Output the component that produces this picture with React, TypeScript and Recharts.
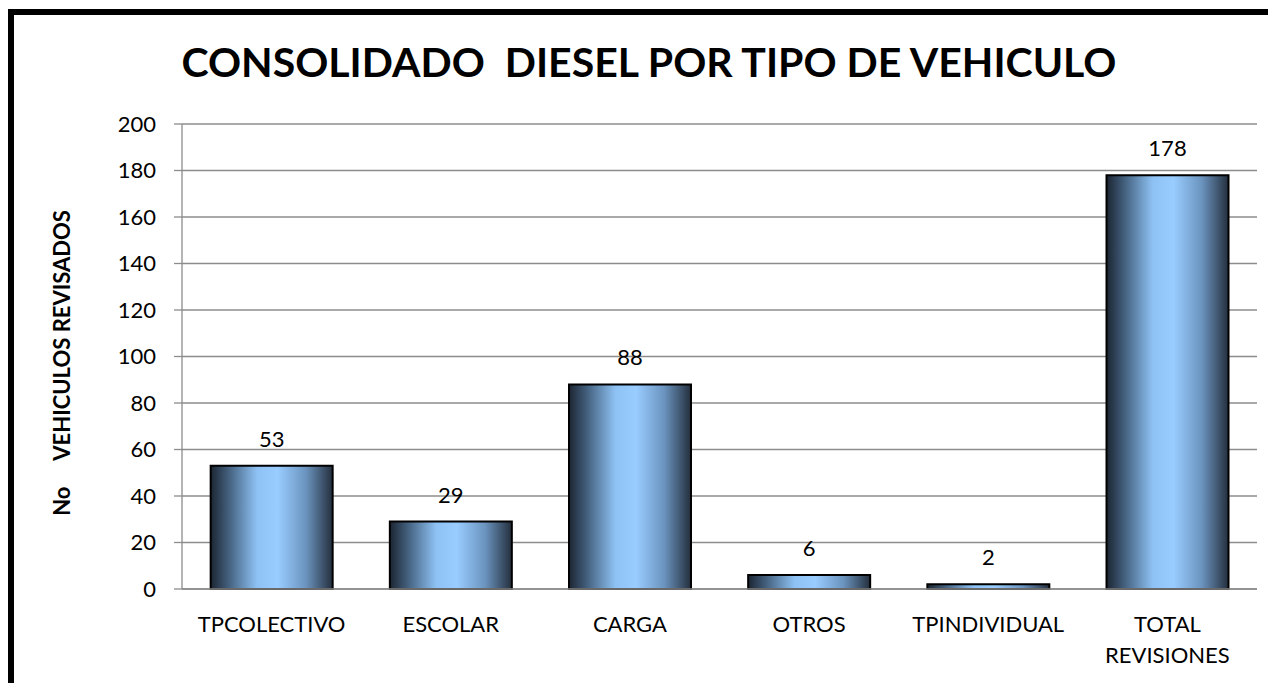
import { Bar, BarChart, CartesianGrid, LabelList, XAxis, YAxis } from "recharts";

const categories = ["TPCOLECTIVO", "ESCOLAR", "CARGA", "OTROS", "TPINDIVIDUAL", "TOTAL REVISIONES"];
const vehiculos = [53, 29, 88, 6, 2, 178];
const yTicks = [0, 20, 40, 60, 80, 100, 120, 140, 160, 180, 200];

const data = categories.map((name, i) => ({ name, value: vehiculos[i] }));

const FONT = "Lato, 'Open Sans', sans-serif";

// two-line labels where the category name has a space (TOTAL / REVISIONES)
function CategoryTick(props: { x?: number; y?: number; payload?: { value: string } }) {
  const { x = 0, y = 0, payload } = props;
  const lines = (payload?.value ?? "").split(" ");
  return (
    <text x={x} y={y} textAnchor="middle" fill="#000" fontSize={22} fontFamily={FONT}>
      {lines.map((l, i) => (
        <tspan key={i} x={x} dy={i === 0 ? 35 : 31}>
          {l}
        </tspan>
      ))}
    </text>
  );
}

export default function App() {
  return (
    <div style={{ position: "fixed", left: 0, top: 0, width: 1268, height: 683, overflow: "hidden", background: "#fff" }}>
      {/* frame: only the top and left edges show in the picture */}
      <div style={{ position: "absolute", left: 8, top: 9, width: 1260, height: 6, background: "#000" }} />
      <div style={{ position: "absolute", left: 8, top: 9, width: 6, height: 674, background: "#000" }} />
      <div
        style={{
          position: "absolute",
          left: 0,
          width: 1298,
          top: 37,
          textAlign: "center",
          fontFamily: FONT,
          fontWeight: 700,
          fontSize: 41,
          color: "#000",
        }}
      >
        CONSOLIDADO&nbsp; DIESEL POR TIPO DE VEHICULO
      </div>
      <div
        style={{
          position: "absolute",
          left: 61,
          top: 363,
          transform: "translate(-50%, -50%) rotate(-90deg)",
          whiteSpace: "pre",
          fontFamily: FONT,
          fontWeight: 700,
          fontSize: 22,
          color: "#000",
        }}
      >
        {"No     VEHICULOS REVISADOS"}
      </div>
      <BarChart
        width={1268}
        height={683}
        data={data}
        margin={{ top: 124, right: 11, left: 122, bottom: 34 }}
        barCategoryGap="16%"
        style={{ position: "absolute", left: 0, top: 0 }}
      >
        <defs>
          <linearGradient id="barFill" x1="0" y1="0" x2="1" y2="0">
            <stop offset="0%" stopColor="#1c2532" />
            <stop offset="15%" stopColor="#44617f" />
            <stop offset="38%" stopColor="#8ec2f4" />
            <stop offset="55%" stopColor="#99ccff" />
            <stop offset="78%" stopColor="#6b94bf" />
            <stop offset="100%" stopColor="#242f3d" />
          </linearGradient>
        </defs>
        <CartesianGrid stroke="#8c8c8c" strokeWidth={1.3} vertical={false} />
        <XAxis
          dataKey="name"
          height={60}
          interval={0}
          tickLine={false}
          axisLine={{ stroke: "#8c8c8c", strokeWidth: 1.3 }}
          tick={<CategoryTick />}
        />
        <YAxis
          width={60}
          domain={[0, 200]}
          ticks={yTicks}
          interval={0}
          tickSize={8}
          tickMargin={18}
          axisLine={{ stroke: "#8c8c8c", strokeWidth: 1.3 }}
          tickLine={{ stroke: "#8c8c8c", strokeWidth: 1.3 }}
          tick={{ fill: "#000", fontSize: 22, fontFamily: FONT }}
        />
        <Bar dataKey="value" fill="url(#barFill)" stroke="#000" strokeWidth={2} isAnimationActive={false}>
          <LabelList dataKey="value" position="top" offset={19} fill="#000" fontSize={22} fontFamily={FONT} />
        </Bar>
      </BarChart>
    </div>
  );
}
